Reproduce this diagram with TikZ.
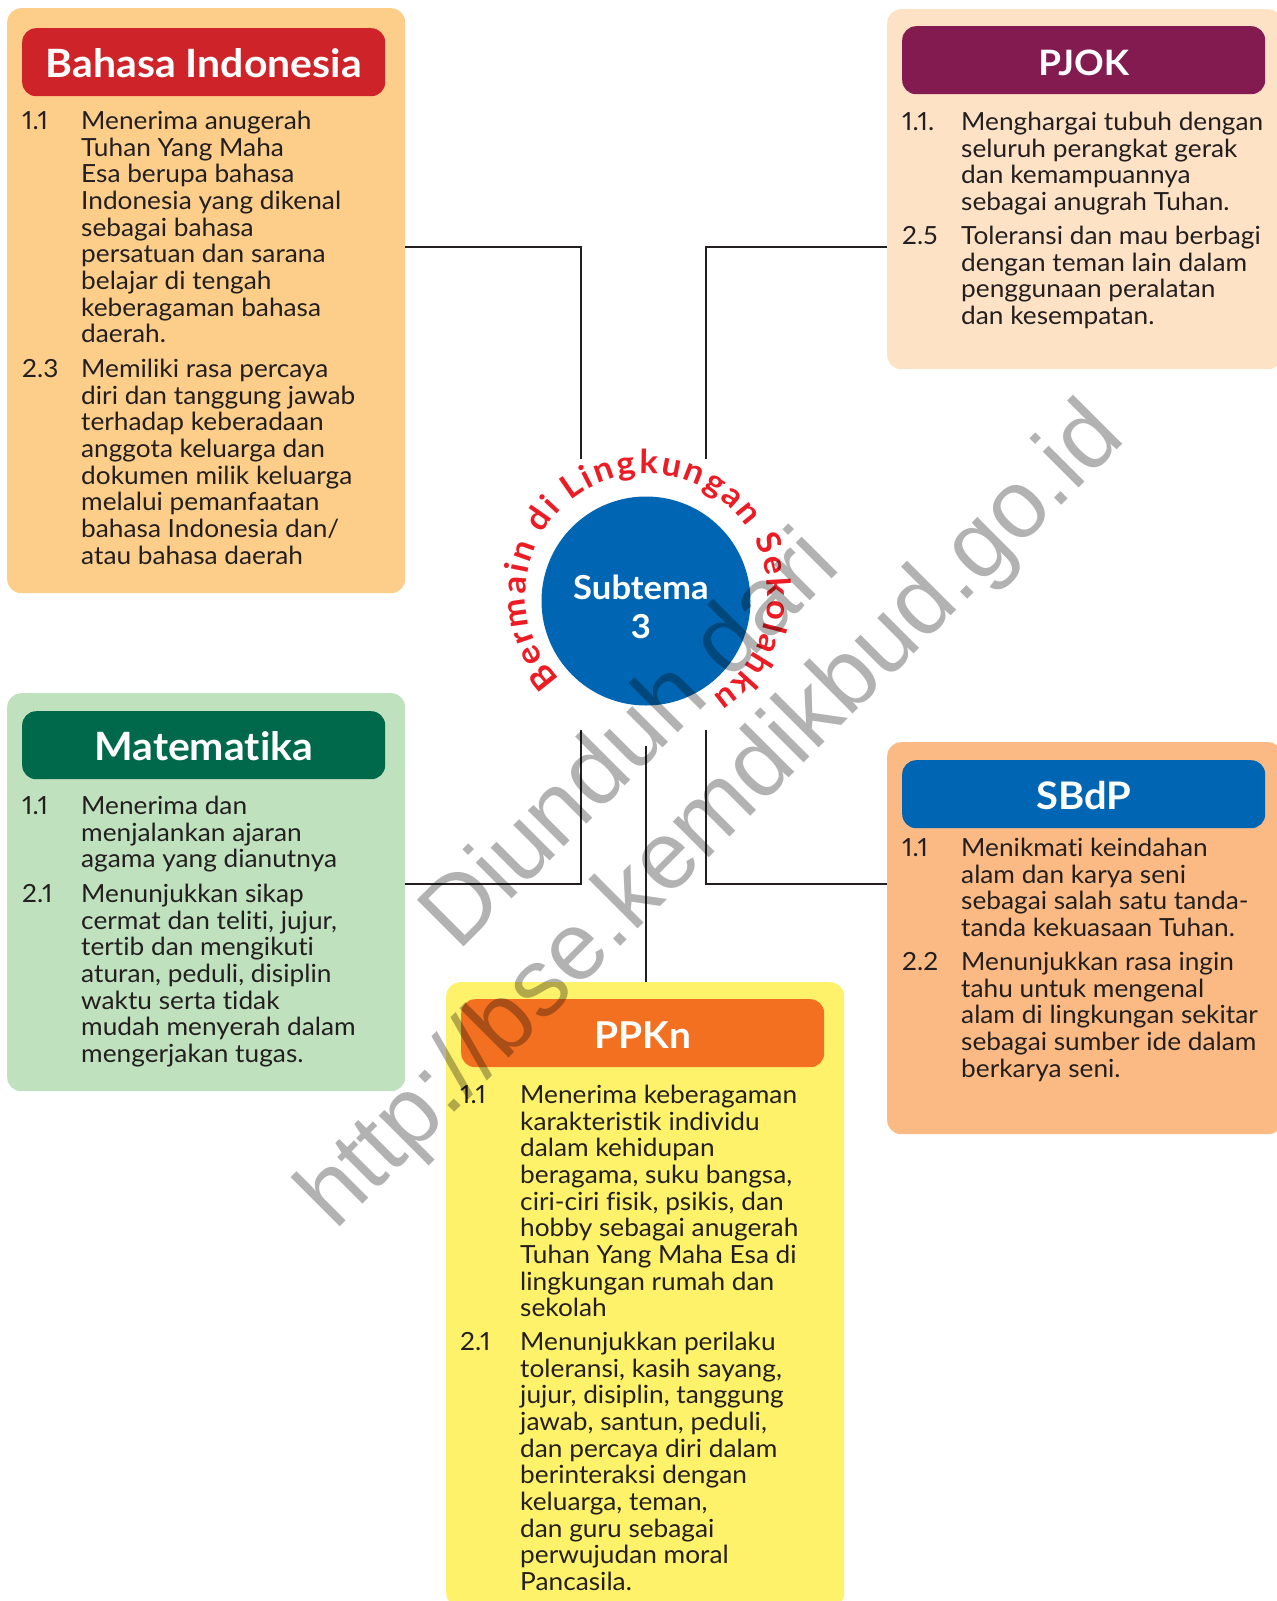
\documentclass[tikz,border=0pt]{standalone}
\usepackage{fontspec}
\setmainfont[FakeStretch=1.05,Ligatures=NoCommon,Numbers=Proportional]{Lato}
\newfontfamily\wmfont{Liberation Sans}
\usetikzlibrary{decorations.text}
\definecolor{ink}{HTML}{231F20}
\definecolor{pbi}{HTML}{FDCD8A}\definecolor{tbi}{HTML}{CF232A}
\definecolor{ppj}{HTML}{FEE2C5}\definecolor{tpj}{HTML}{841B50}
\definecolor{pmt}{HTML}{BFE1BD}\definecolor{tmt}{HTML}{00694B}
\definecolor{psb}{HTML}{FBBA83}\definecolor{tsb}{HTML}{0066B3}
\definecolor{ppk}{HTML}{FFF26B}\definecolor{tpk}{HTML}{F47021}
\definecolor{ringred}{HTML}{ED1C24}
\tikzset{
 panel/.style={rounded corners=14pt,inner sep=0pt,anchor=north west},
 titlebox/.style={rounded corners=14pt,inner sep=0pt,anchor=north west,minimum width=363pt,minimum height=68pt,
   text=white,font=\fontsize{39}{42}\selectfont\bfseries,text height=30pt,text depth=0pt},
 body/.style={inner sep=0pt,anchor=north west,align=left,text=ink,font=\fontsize{25}{26.65}\selectfont},
 conn/.style={draw=ink,line width=2.8pt},
 wm/.style={text=black,opacity=.3,inner sep=0pt,anchor=base west,rotate=45,font=\wmfont\fontsize{96}{98}\selectfont}
}
\newcommand{\sr}{\rule{0pt}{18pt}}
\begin{document}
\begin{tikzpicture}[x=1pt,y=-1pt]
\useasboundingbox (0,0) rectangle (1277,1601);
\clip (0,0) rectangle (1277,1601);
% panels
\node[panel,fill=pbi,minimum width=398pt,minimum height=585pt] (pb) at (7,8) {};
\node[panel,fill=ppj,minimum width=395pt,minimum height=360pt] (pj) at (887,9) {};
\node[panel,fill=pmt,minimum width=398pt,minimum height=398pt] (pm) at (7,693) {};
\node[panel,fill=psb,minimum width=395pt,minimum height=392pt] (ps) at (887,742) {};
\node[panel,fill=ppk,minimum width=398pt,minimum height=625pt] (pk) at (446,982) {};
% titles
\node[titlebox,fill=tbi] (tb) at (22,28) {Bahasa Indonesia};
\node[titlebox,fill=tpj,font=\fontsize{35}{40}\selectfont\bfseries] (tj) at (902,26) {PJOK};
\node[titlebox,fill=tmt] (tm) at (22,711) {Matematika};
\node[titlebox,fill=tsb,font=\fontsize{38}{40}\selectfont\bfseries] (ts) at (902,760) {SBdP};
\node[titlebox,fill=tpk,font=\fontsize{37}{40}\selectfont\bfseries] (tk) at (461,999) {PPKn};
% connector ends
\coordinate (hubtl) at (581,459);
\coordinate (hubtr) at (706,459);
\coordinate (hubbl) at (581,730);
\coordinate (hubbr) at (706,730);
\coordinate (hubbc) at (646,746);
\coordinate (rowt) at (0,247);
\coordinate (rowb) at (0,884);
\draw[conn] (hubtl) |- (pb.east |- rowt);
\draw[conn] (hubtr) |- (pj.west |- rowt);
\draw[conn] (hubbl) |- (pm.east |- rowb);
\draw[conn] (hubbr) |- (ps.west |- rowb);
\draw[conn] (hubbc) -- (hubbc |- pk.north);
% hub
\node[circle,fill=tsb,minimum size=209pt,inner sep=0pt] (hub) at (646,601) {};
\node[text=white,align=center,inner sep=0pt,font=\fontsize{33}{38.5}\selectfont\bfseries] (hubtext) at (641,607) {Subtema\\3};
\path[decorate,decoration={text along path,text align={fit to path},
  text={|\fontsize{33}{35}\selectfont\bfseries\color{ringred}|Bermain di Lingkungan Sekolahku}}]
  (646.7,595) ++(224:121pt) arc[start angle=224,end angle=-57,radius=121pt];
% Bahasa Indonesia
\node[body] (b1n) at (22,111) {\sr 1.1};
\node[body] (b1) at (81,111) {\sr Menerima anugerah\\Tuhan Yang Maha\\Esa berupa bahasa\\Indonesia yang dikenal\\sebagai bahasa\\persatuan dan sarana\\belajar di tengah\\keberagaman bahasa\\daerah.};
\node[body] (b2n) at (22,359) {\sr 2.3};
\node[body] (b2) at (81,359) {\sr Memiliki rasa percaya\\diri dan tanggung jawab\\terhadap keberadaan\\anggota keluarga dan\\dokumen milik keluarga\\melalui pemanfaatan\\bahasa Indonesia dan/\\atau bahasa daerah};
% PJOK
\node[body] (j1n) at (902,112) {\sr 1.1.};
\node[body] (j1) at (961,112) {\sr Menghargai tubuh dengan\\seluruh perangkat gerak\\dan kemampuannya\\sebagai anugrah Tuhan.};
\node[body] (j2n) at (902,226) {\sr 2.5};
\node[body] (j2) at (961,226) {\sr Toleransi dan mau berbagi\\dengan teman lain dalam\\penggunaan peralatan\\dan kesempatan.};
% Matematika
\node[body] (m1n) at (22,796) {\sr 1.1};
\node[body] (m1) at (81,796) {\sr Menerima dan\\menjalankan ajaran\\agama yang dianutnya};
\node[body] (m2n) at (22,884) {\sr 2.1};
\node[body] (m2) at (81,884) {\sr Menunjukkan sikap\\cermat dan teliti, jujur,\\tertib dan mengikuti\\aturan, peduli, disiplin\\waktu serta tidak\\mudah menyerah dalam\\mengerjakan tugas.};
% SBdP
\node[body] (s1n) at (902,838) {\sr 1.1};
\node[body] (s1) at (961,838) {\sr Menikmati keindahan\\alam dan karya seni\\sebagai salah satu tanda-\\tanda kekuasaan Tuhan.};
\node[body] (s2n) at (902,952) {\sr 2.2};
\node[body] (s2) at (961,952) {\sr Menunjukkan rasa ingin\\tahu untuk mengenal\\alam di lingkungan sekitar\\sebagai sumber ide dalam\\berkarya seni.};
% PPKn
\node[body] (k1n) at (460,1085) {\sr 1.1};
\node[body] (k1) at (520,1085) {\sr Menerima keberagaman\\karakteristik individu\\dalam kehidupan\\beragama, suku bangsa,\\ciri-ciri fisik, psikis, dan\\hobby sebagai anugerah\\Tuhan Yang Maha Esa di\\lingkungan rumah dan\\sekolah};
\node[body] (k2n) at (460,1332) {\sr 2.1};
\node[body] (k2) at (520,1332) {\sr Menunjukkan perilaku\\toleransi, kasih sayang,\\jujur, disiplin, tanggung\\jawab, santun, peduli,\\dan percaya diri dalam\\berinteraksi dengan\\keluarga, teman,\\dan guru sebagai\\perwujudan moral\\Pancasila.};
% watermark
\node[wm] (w1) at (458,953) {Diunduh dari};
\node[wm] (w2) at (335,1232) {http://bse.kemdikbud.go.id};
\end{tikzpicture}
\end{document}
